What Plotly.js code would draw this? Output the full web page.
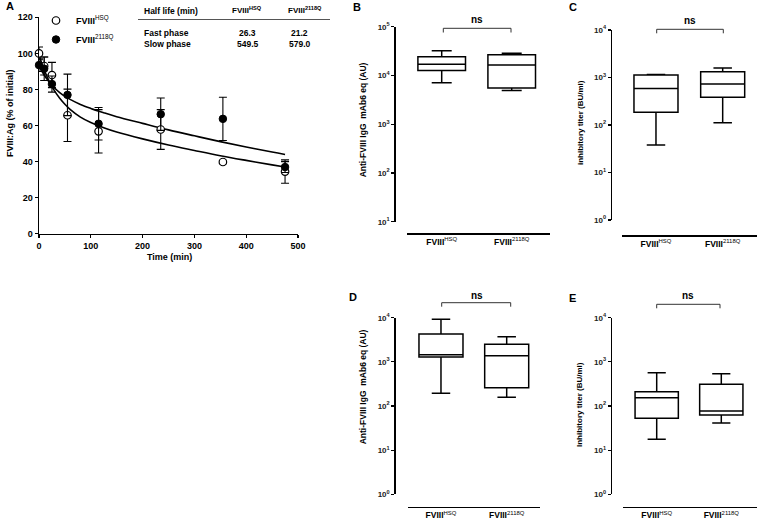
<!DOCTYPE html>
<html>
<head>
<meta charset="utf-8">
<script src="https://cdn.plot.ly/plotly-3.0.1.min.js"></script>
<style>html,body{margin:0;padding:0;background:#fff;}#chart{width:758px;height:520px;}</style>
</head>
<body>
<div id="chart"></div>
<script>
// ---------- Panel A: clearance data ----------
const times = [0, 10, 25, 55, 115, 235, 355, 475];
const hsqMean = [100, 93, 88, 65.7, 56.8, 57.8, 39.8, 34.5];
const hsqErr = [3.5, 5, 7, 14.5, 12, 11, 1, 6.5];
const q2118Mean = [93.5, 91.5, 83, 77, 61, 66.3, 63.7, 37];
const q2118Err = [3.5, 6.5, 4.5, 11.5, 9, 9, 12, 3];
// fitted curves
const fitTime = [0, 10, 20, 30, 40, 50, 60, 80, 100, 125, 150, 200, 250, 300, 350, 400, 450, 475];
const hsqFit = [99.0, 90.9, 84.3, 79.2, 75.1, 71.8, 69.0, 64.7, 61.7, 58.8, 56.4, 52.6, 49.2, 46.2, 43.3, 40.7, 38.2, 37.0];
const q2118Fit = [93.2, 88.0, 84.0, 80.8, 78.3, 76.2, 74.5, 71.7, 69.5, 67.1, 64.9, 61.2, 57.6, 54.3, 51.1, 48.1, 45.3, 44.0];
const seriesNames = ['<b>FVIII</b><sup>HSQ</sup>', '<b>FVIII</b><sup>2118Q</sup>'];
const xTicksA = [0, 100, 200, 300, 400, 500];
const yTicksA = [0, 20, 40, 60, 80, 100, 120];

// half-life table
const tableHeader = ['Half life (min)', 'FVIII<sup>HSQ</sup>', 'FVIII<sup>2118Q</sup>'];
const tableRows = ['Fast phase', 'Slow phase'];
const hsqHalfLife = ['26.3', '549.5'];
const q2118HalfLife = ['21.2', '579.0'];

// ---------- Box panels ----------
const categories = ['<b>FVIII</b><sup>HSQ</sup>', '<b>FVIII</b><sup>2118Q</sup>'];
// B: Anti-FVIII IgG (first)
const bMin = [7100, 4900], bQ1 = [12700, 5500], bMed = [17000, 16400], bQ3 = [24300, 26700], bMax = [32000, 28500];
// C: inhibitory titer (first)
const cMin = [38, 112], cQ1 = [185, 383], cMed = [590, 730], cQ3 = [1130, 1325], cMax = [1150, 1585];
// D: Anti-FVIII IgG (second)
const dMin = [194, 157], dQ1 = [1280, 260], dMed = [1450, 1380], dQ3 = [4260, 2500], dMax = [9200, 3700];
// E: inhibitory titer (second)
const eMin = [17.6, 41], eQ1 = [52.6, 62.5], eMed = [154, 77], eQ3 = [211, 309], eMax = [568, 538];
const logTickVals4 = [1, 10, 100, 1000, 10000];
const logTickText4 = ['10<sup>0</sup>', '10<sup>1</sup>', '10<sup>2</sup>', '10<sup>3</sup>', '10<sup>4</sup>'];
const logTickVals5 = [10, 100, 1000, 10000, 100000];
const logTickText5 = ['10<sup>1</sup>', '10<sup>2</sup>', '10<sup>3</sup>', '10<sup>4</sup>', '10<sup>5</sup>'];
const sigLabel = 'ns';

// ---------- helpers ----------
const W = 758, H = 520;
const X = px => px / W;
const Y = py => 1 - py / H;
const FONT = 'Liberation Sans, Arial, sans-serif';

const data = [];
// curves
data.push({x: fitTime, y: q2118Fit, type: 'scatter', mode: 'lines', line: {color: '#000', width: 1.6, shape: 'spline'}, showlegend: false, hoverinfo: 'skip', xaxis: 'x', yaxis: 'y'});
data.push({x: fitTime, y: hsqFit, type: 'scatter', mode: 'lines', line: {color: '#000', width: 1.6, shape: 'spline'}, showlegend: false, hoverinfo: 'skip', xaxis: 'x', yaxis: 'y'});
// points
data.push({x: times, y: hsqMean, name: seriesNames[0], type: 'scatter', mode: 'markers', cliponaxis: false,
  marker: {symbol: 'circle', size: 7.5, color: '#fff', line: {color: '#000', width: 1.2}},
  error_y: {type: 'data', array: hsqErr, visible: true, color: '#000', thickness: 1.1, width: 4},
  xaxis: 'x', yaxis: 'y'});
data.push({x: times, y: q2118Mean, name: seriesNames[1], type: 'scatter', mode: 'markers', cliponaxis: false,
  marker: {symbol: 'circle', size: 7.5, color: '#000', line: {color: '#000', width: 1}},
  error_y: {type: 'data', array: q2118Err, visible: true, color: '#000', thickness: 1.1, width: 4},
  xaxis: 'x', yaxis: 'y'});

function boxTrace(ax, mn, q1, med, q3, mx, w) {
  return {type: 'box', x: categories, lowerfence: mn, q1: q1, median: med, q3: q3, upperfence: mx,
    xaxis: 'x' + ax, yaxis: 'y' + ax, boxpoints: false, width: w, whiskerwidth: 0.42,
    line: {color: '#000', width: 1.5}, fillcolor: 'rgba(0,0,0,0)', showlegend: false, hoverinfo: 'skip'};
}
data.push(boxTrace(2, bMin, bQ1, bMed, bQ3, bMax, 0.68));
data.push(boxTrace(3, cMin, cQ1, cMed, cQ3, cMax, 0.66));
data.push(boxTrace(4, dMin, dQ1, dMed, dQ3, dMax, 0.67));
data.push(boxTrace(5, eMin, eQ1, eMed, eQ3, eMax, 0.67));

const tickFontBold = {family: FONT, size: 9, color: '#000', weight: 'bold'};
const logTickFont = {family: FONT, size: 8, color: '#222', weight: 'bold'};
const catTickFont = {family: FONT, size: 8.5, color: '#000'};

function catX(dom, posY, range) {
  return {domain: dom, anchor: 'free', position: posY, type: 'category', range: range, showline: true, linecolor: '#000', linewidth: 1.5,
    ticks: '', showgrid: false, zeroline: false, tickfont: catTickFont, fixedrange: true};
}
function logY(dom, posX, range, tv, tt) {
  return {domain: dom, anchor: 'free', position: posX, type: 'log', range: range, tickvals: tv, ticktext: tt,
    showline: true, linecolor: '#000', linewidth: 1.5, ticks: 'outside', ticklen: 3, tickwidth: 1.2, tickcolor: '#000',
    showgrid: false, zeroline: false, tickfont: logTickFont, fixedrange: true};
}

const layout = {
  width: W, height: H, margin: {l: 0, r: 0, t: 0, b: 0},
  paper_bgcolor: '#fff', plot_bgcolor: 'rgba(0,0,0,0)',
  font: {family: FONT, color: '#000'},
  showlegend: true,
  legend: {x: X(36), y: Y(6), xanchor: 'left', yanchor: 'top', bgcolor: 'rgba(0,0,0,0)', borderwidth: 0,
    font: {family: FONT, size: 9, color: '#000'}, tracegroupgap: 0, itemwidth: 30},
  xaxis: {domain: [X(39), X(298)], anchor: 'y', range: [0, 500], tickvals: xTicksA, showline: true, linecolor: '#000', linewidth: 1.5,
    ticks: 'outside', ticklen: 3, tickwidth: 1.2, tickcolor: '#000', showgrid: false, zeroline: false, tickfont: tickFontBold, fixedrange: true},
  yaxis: {domain: [Y(233.8), Y(17.3)], anchor: 'x', range: [0, 120], tickvals: yTicksA, showline: true, linecolor: '#000', linewidth: 1.5,
    ticks: 'outside', ticklen: 3, tickwidth: 1.2, tickcolor: '#000', showgrid: false, zeroline: false, tickfont: tickFontBold, fixedrange: true},
  xaxis2: catX([X(406.7), X(550)], Y(233.3), [-0.5, 1.547]),
  yaxis2: logY([Y(221.7), Y(26.7)], X(394.3), [1, 5], logTickVals5, logTickText5),
  xaxis3: catX([X(621.7), X(756.7)], Y(235), [-0.514, 1.51]),
  yaxis3: logY([Y(220), Y(30)], X(610.7), [0, 4], logTickVals4, logTickText4),
  xaxis4: catX([X(408), X(540)], Y(506.7), [-0.502, 1.507]),
  yaxis4: logY([Y(494.3), Y(317.7)], X(394.3), [0, 4], logTickVals4, logTickText4),
  xaxis5: catX([X(623.3), X(756.7)], Y(506.7), [-0.517, 1.548]),
  yaxis5: logY([Y(494.3), Y(317.7)], X(610.7), [0, 4], logTickVals4, logTickText4),
  shapes: [],
  annotations: []
};

function ann(text, px, py, size, opts) {
  return Object.assign({text: text, x: X(px), y: Y(py), xref: 'paper', yref: 'paper', showarrow: false,
    xanchor: 'center', yanchor: 'middle', font: {family: FONT, size: size, color: '#000', weight: 'bold'}}, opts || {});
}
const A = layout.annotations;
// panel letters
A.push(ann('A', 10, 6, 11));
A.push(ann('B', 356.7, 7, 11));
A.push(ann('C', 573, 7, 11));
A.push(ann('D', 353.3, 297, 11));
A.push(ann('E', 572.7, 298, 11));
// axis titles
A.push(ann('FVIII:Ag (% of initial)', 10, 113, 9, {textangle: -90}));
A.push(ann('Time (min)', 169, 257, 9));
A.push(ann('Anti-FVIII IgG  mAb6 eq (AU)', 363.3, 120, 8.5, {textangle: -90}));
A.push(ann('inhibitory titer (BU/ml)', 580, 123, 8, {textangle: -90}));
A.push(ann('Anti-FVIII IgG  mAb6 eq (AU)', 363.3, 387, 8.5, {textangle: -90}));
A.push(ann('Inhibitory titer (BU/ml)', 579, 405, 8, {textangle: -90}));
// half-life table
A.push(ann(tableHeader[0], 141.7, 11, 8.5, {xanchor: 'left'}));
A.push(ann(tableHeader[1], 247, 10, 8));
A.push(ann(tableHeader[2], 305, 10, 8));
layout.shapes.push({type: 'line', xref: 'paper', yref: 'paper', x0: X(138), x1: X(330), y0: Y(19.5), y1: Y(19.5), line: {color: '#555', width: 1}});
const rowY = [33.3, 44.3];
for (let i = 0; i < tableRows.length; i++) {
  A.push(ann(tableRows[i], 141.7, rowY[i], 8.5, {xanchor: 'left'}));
  A.push(ann(hsqHalfLife[i], 247.5, rowY[i], 8.5));
  A.push(ann(q2118HalfLife[i], 299.5, rowY[i], 8.5));
}
// significance brackets
function bracket(x0, x1, yb, yl, tx, ty) {
  layout.shapes.push({type: 'path', xref: 'paper', yref: 'paper',
    path: `M ${X(x0)} ${Y(yl)} L ${X(x0)} ${Y(yb)} L ${X(x1)} ${Y(yb)} L ${X(x1)} ${Y(yl)}`,
    line: {color: '#333', width: 1}});
  A.push(ann(sigLabel, tx, ty, 10));
}
bracket(443.3, 511, 28.3, 32.5, 477, 20);
bracket(656.7, 723.3, 29.3, 33.3, 690, 20.5);
bracket(441.7, 510.7, 302.7, 306.7, 476.7, 295);
bracket(656.7, 720, 304.3, 308.3, 688.3, 295);

Plotly.newPlot('chart', data, layout, {staticPlot: true, displayModeBar: false});
</script>
</body>
</html>
